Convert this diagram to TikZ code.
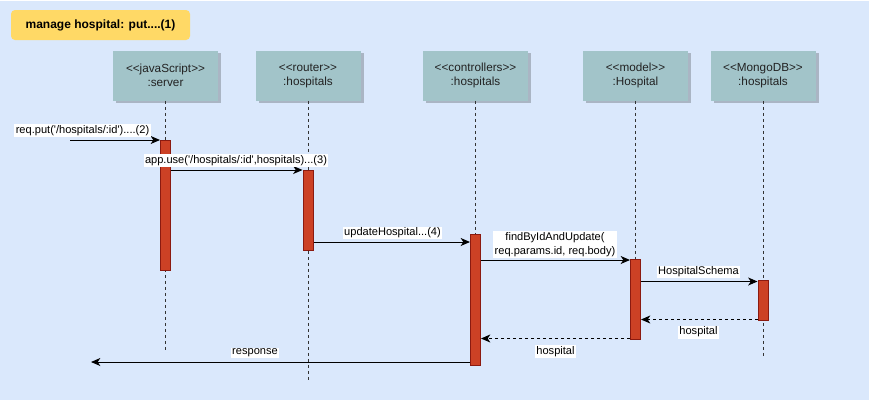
\documentclass[tikz,border=0pt]{standalone}
\usepackage{fontspec}
\setmainfont{Liberation Sans}[Ligatures=TeXOff]
\usetikzlibrary{arrows.meta}
\definecolor{bgblue}{HTML}{DAE8FC}
\definecolor{titleyellow}{HTML}{FFD966}
\definecolor{boxteal}{HTML}{A2C4C9}
\definecolor{barred}{HTML}{CC4125}
\definecolor{barline}{HTML}{8B1A10}
\definecolor{txtgray}{HTML}{222222}
\tikzset{
  lifebox/.style={fill=boxteal, draw=none, minimum width=78.75pt, minimum height=37.5pt,
    align=center, font=\fontsize{8.8pt}{10.5pt}\selectfont, text=txtgray, inner sep=0pt},
  lifeshadow/.style={fill=black, fill opacity=0.22, draw=none, minimum width=78.75pt, minimum height=37.5pt},
  actbar/.style={fill=barred, draw=barline, line width=0.75pt, minimum width=7.5pt, inner sep=0pt},
  lifeline/.style={draw=black!80, line width=0.75pt, dash pattern=on 2.25pt off 2.25pt},
  msg/.style={draw=black, line width=0.75pt, -{Stealth[length=7pt,width=6pt,inset=2pt]}},
  ret/.style={msg, dash pattern=on 2.25pt off 2.25pt},
  lbl/.style={fill=white, inner sep=1pt, font=\fontsize{8.3pt}{10.5pt}\selectfont, text=black, align=center},
}
\begin{document}
\begin{tikzpicture}[x=0.75pt, y=-0.75pt]
\useasboundingbox (0,0) rectangle (871,401);
\fill[white] (0,0) rectangle (871,401);
\fill[bgblue] (0,1) rectangle (869,400);

% title
\node[fill=titleyellow, rounded corners=3pt, minimum width=134.25pt, minimum height=22.5pt,
  font=\bfseries\fontsize{9pt}{11pt}\selectfont, inner sep=0pt] (title) at (100.5,25) {manage hospital: put....(1)};

% shadows of lifeline boxes
\foreach \x in {165.5,308,475.5,635.5,763}
  \node[lifeshadow] at (\x+3,78) {};

% lifeline boxes
\node[lifebox] (server) at (165.5,75.5) {<<javaScript>>\\:server};
\node[lifebox] (router) at (308,75.5) {<<router>>\\:hospitals};
\node[lifebox] (ctrl) at (475.5,75.5) {<<controllers>>\\:hospitals};
\node[lifebox] (model) at (635.5,75.5) {<<model>>\\:Hospital};
\node[lifebox] (mongo) at (763,75.5) {<<MongoDB>>\\:hospitals};

% lifeline ends
\coordinate (eServer) at (165.5,350);
\coordinate (eRouter) at (308,380);
\coordinate (eCtrl) at (475.5,365);
\coordinate (eModel) at (635.5,340);
\coordinate (eMongo) at (763,358);

\draw[lifeline] (server.south) -- (eServer);
\draw[lifeline] (router.south) -- (eRouter);
\draw[lifeline] (ctrl.south) -- (eCtrl);
\draw[lifeline] (model.south) -- (eModel);
\draw[lifeline] (mongo.south) -- (eMongo);

% activation bars
\node[actbar, minimum height=97.5pt] (bServer) at (165.5,205) {};
\node[actbar, minimum height=60pt] (bRouter) at (308,210) {};
\node[actbar, minimum height=98.25pt] (bCtrl) at (475.5,299.5) {};
\node[actbar, minimum height=60pt] (bModel) at (635.5,299.5) {};
\node[actbar, minimum height=30pt] (bMongo) at (763,300) {};

% message levels
\coordinate (y2) at (0,140);
\coordinate (y3) at (0,170);
\coordinate (y4) at (0,242);
\coordinate (y5) at (0,260);
\coordinate (y6) at (0,281.5);
\coordinate (y7) at (0,319.5);
\coordinate (y8) at (0,338.5);
\coordinate (y9) at (0,362);
\coordinate (start2) at (70,140);
\coordinate (endResp) at (91,362);

% messages
\draw[msg] (start2) -- (bServer.west |- y2);
\node[lbl] (l2) at (82.5,130.5) {req.put('/hospitals/:id')....(2)};

\draw[msg] (bServer.east |- y3) -- (bRouter.west |- y3);
\node[lbl] (l3) at (236,160.5) {app.use('/hospitals/:id',hospitals)...(3)};

\draw[msg] (bRouter.east |- y4) -- (bCtrl.west |- y4);
\node[lbl] (l4) at (392.5,233) {updateHospital...(4)};

\draw[msg] (bCtrl.east |- y5) -- (bModel.west |- y5);
\node[lbl] (l5) at (555,244.5) {findByIdAndUpdate(\\req.params.id, req.body)};

\draw[msg] (bModel.east |- y6) -- (bMongo.west |- y6);
\node[lbl] (l6) at (698.5,272) {HospitalSchema};

\draw[ret] (bMongo.west |- y7) -- (bModel.east |- y7);
\node[lbl] (l7) at (698.5,332) {hospital};

\draw[ret] (bModel.west |- y8) -- (bCtrl.east |- y8);
\node[lbl] (l8) at (555.5,351.5) {hospital};

\draw[msg] (bCtrl.west |- y9) -- (endResp);
\node[lbl] (l9) at (255,353) {response};
\end{tikzpicture}
\end{document}
